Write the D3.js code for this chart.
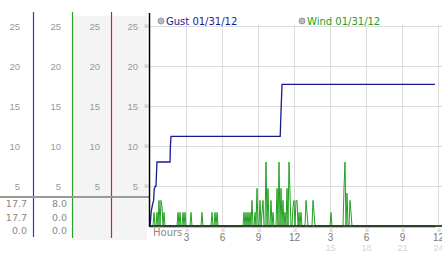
<!DOCTYPE html>
<html>
<head>
<meta charset="utf-8">
<script src="https://cdn.jsdelivr.net/npm/d3@7"></script>
<style>
  body { margin: 0; background: #fff; }
  svg { display: block; font-family: "DejaVu Sans", sans-serif; }
  .domain { display: none; }
</style>
</head>
<body>
<div id="chart"></div>
<script>
// chart data
var yTicks = [5, 10, 15, 20, 25];
var xTicks = [3, 6, 9, 12, 15, 18, 21, 24];
var xTickLabels = ["3", "6", "9", "12", "3", "6", "9", "12"];
var xDayLabels = ["", "", "", "", "15", "18", "21", "24"];
var seriesNames = ["Gust 01/31/12", "Wind 01/31/12"];
var gustStats = ["17.7", "17.7", "0.0"];
var windStats = ["8.0", "0.0", "0.0"];

// gust readings [hour, mph]
var gust = [
  [0, 0], [0.05, 0.8], [0.1, 1.8], [0.2, 2.6], [0.3, 3.2], [0.35, 4.6], [0.45, 5.0],
  [0.5, 5.0], [0.58, 8.0], [1.67, 8.0], [1.7, 10.0], [1.75, 11.2], [10.85, 11.2],
  [10.9, 13.5], [11.0, 17.7], [23.75, 17.7]
];

// wind readings [minute, mph]
var wind = [
  [0, 0], [15, 0], [20, 1.7], [25, 0], [30, 0], [35, 1.7], [40, 0], [45, 3.2], [50, 0],
  [55, 3.2], [60, 2.4], [65, 0], [70, 1.7], [75, 0],
  [135, 0], [140, 1.7], [145, 0], [150, 1.7], [155, 0], [160, 0], [165, 1.7], [170, 0],
  [175, 1.7], [180, 0], [200, 0], [205, 1.7], [210, 0], [255, 0], [260, 1.7], [265, 0],
  [305, 0], [310, 1.7], [315, 0], [320, 0], [325, 1.7], [330, 0], [335, 1.7], [340, 0],
  [465, 0], [470, 1.7], [475, 0], [480, 1.7], [485, 0], [490, 1.7], [495, 0], [500, 1.7],
  [505, 0], [510, 3.2], [515, 0], [520, 0], [525, 1.7], [530, 0], [535, 4.7], [540, 0],
  [545, 0], [550, 3.2], [555, 0], [560, 1.7], [565, 3.2], [570, 0], [575, 0], [580, 8.0],
  [585, 0], [590, 4.7], [595, 0], [600, 0], [605, 3.2], [610, 0], [615, 1.7], [620, 0],
  [630, 0], [635, 4.7], [640, 0], [645, 8.0], [650, 0], [655, 4.7], [660, 0], [665, 3.2],
  [670, 0], [675, 1.7], [680, 0], [685, 4.7], [690, 0], [695, 8.0], [700, 4.1], [705, 0],
  [710, 0], [715, 2.4], [720, 3.2], [725, 0], [730, 3.2], [735, 3.2], [740, 0], [745, 1.7],
  [750, 0], [755, 1.7], [760, 0], [775, 0], [780, 3.2], [785, 1.7], [790, 0], [810, 0],
  [815, 3.2], [820, 1.7], [825, 0], [900, 0], [905, 1.7], [910, 0], [965, 0], [970, 4.7],
  [975, 8.0], [980, 0], [985, 4.1], [990, 0], [995, 0], [1000, 3.2], [1005, 1.7], [1010, 0],
  [1425, 0]
];

var svgWidth = 442;
var svgHeight = 253;

var svg = d3.select("#chart")
  .append("svg")
  .attr("width", svgWidth)
  .attr("height", svgHeight);

// scales: 0..24 hours across the plot, 0..25 mph up
var x = d3.scaleLinear().domain([0, 24]).range([150, 438]);
var y = d3.scaleLinear().domain([0, 25]).range([226, 26]);

// gray column backgrounds
svg.append("rect").attr("x", 73).attr("y", 16).attr("width", 38).attr("height", 224).attr("fill", "#f4f4f4");
svg.append("rect").attr("x", 112).attr("y", 16).attr("width", 35).attr("height", 224).attr("fill", "#f4f4f4");

// grid
svg.append("g").selectAll("line")
  .data(yTicks)
  .enter().append("line")
  .attr("x1", 150).attr("x2", svgWidth)
  .attr("y1", d => Math.round(y(d)) + 0.5).attr("y2", d => Math.round(y(d)) + 0.5)
  .attr("stroke", "#dcdcdc");
svg.append("g").selectAll("line")
  .data(xTicks)
  .enter().append("line")
  .attr("x1", d => Math.round(x(d)) + 0.5).attr("x2", d => Math.round(x(d)) + 0.5)
  .attr("y1", 25).attr("y2", 226)
  .attr("stroke", "#dcdcdc");

// column label axes (left panel)
var colRights = [20, 61, 100, 138];
colRights.forEach(cx => {
  var ax = svg.append("g")
    .attr("transform", `translate(${cx}, 0)`)
    .call(d3.axisLeft(y).tickValues(yTicks).tickSize(0).tickPadding(0));
  ax.selectAll("text").attr("fill", "#999").style("font-size", "9.5px");
});

// tick markers left of the plot
var yMarks = svg.append("g")
  .attr("transform", "translate(149, 0)")
  .call(d3.axisLeft(y).tickValues(yTicks).tickSize(0).tickPadding(0).tickFormat(() => "※"));
yMarks.selectAll("text").attr("fill", "#aaa").style("font-size", "6px");

// colored column dividers
svg.append("line").attr("x1", 33.5).attr("x2", 33.5).attr("y1", 12).attr("y2", 237).attr("stroke", "#1f3fc0").attr("stroke-width", 1.2);
svg.append("line").attr("x1", 72.5).attr("x2", 72.5).attr("y1", 12).attr("y2", 238).attr("stroke", "#2aa02a").attr("stroke-width", 1.2);
svg.append("line").attr("x1", 111.5).attr("x2", 111.5).attr("y1", 12).attr("y2", 238).attr("stroke", "#c82828").attr("stroke-width", 1.2);

// divider above the stats
svg.append("line").attr("x1", 0).attr("x2", 149).attr("y1", 197).attr("y2", 197)
  .attr("stroke", "#9a9a9a").attr("stroke-width", 2);

// stats under the divider
var statRows = [204, 218, 231];
svg.append("g").selectAll("text")
  .data(gustStats)
  .enter().append("text")
  .attr("x", 27).attr("y", (d, i) => statRows[i])
  .attr("dy", "0.35em")
  .attr("text-anchor", "end")
  .attr("fill", "#888")
  .style("font-size", "9.5px")
  .text(d => d);
svg.append("g").selectAll("text")
  .data(windStats)
  .enter().append("text")
  .attr("x", 67).attr("y", (d, i) => statRows[i])
  .attr("dy", "0.35em")
  .attr("text-anchor", "end")
  .attr("fill", "#888")
  .style("font-size", "9.5px")
  .text(d => d);

// wind line
var windLine = d3.line()
  .x(d => x(d[0] / 60))
  .y(d => y(d[1]));
svg.append("path")
  .datum(wind)
  .attr("d", windLine)
  .attr("fill", "none")
  .attr("stroke", "#22a022")
  .attr("stroke-width", 1);

// gust line
var gustLine = d3.line()
  .x(d => x(d[0]))
  .y(d => y(d[1]));
svg.append("path")
  .datum(gust)
  .attr("d", gustLine)
  .attr("fill", "none")
  .attr("stroke", "#1a1a90")
  .attr("stroke-width", 1.3);

// axis lines
svg.append("line").attr("x1", 149.5).attr("x2", 149.5).attr("y1", 13).attr("y2", 227).attr("stroke", "#000").attr("stroke-width", 1.5);
svg.append("line").attr("x1", 149).attr("x2", svgWidth).attr("y1", 226).attr("y2", 226).attr("stroke", "#111").attr("stroke-width", 1.5);
svg.append("line").attr("x1", 150).attr("x2", 436).attr("y1", 227.5).attr("y2", 227.5).attr("stroke", "#9ad89a").attr("stroke-width", 1);

// x tick markers and labels
var xMarks = svg.append("g")
  .attr("transform", "translate(0, 228)")
  .call(d3.axisBottom(x).tickValues(xTicks).tickSize(0).tickPadding(0).tickFormat(() => "※"));
xMarks.selectAll("text").attr("fill", "#aaa").style("font-size", "5px");

var xLab = svg.append("g")
  .attr("transform", "translate(0, 234)")
  .call(d3.axisBottom(x).tickValues(xTicks).tickSize(0).tickPadding(0).tickFormat((d, i) => xTickLabels[i]));
xLab.selectAll("text").attr("fill", "#777").style("font-size", "10px");

var xDay = svg.append("g")
  .attr("transform", "translate(0, 245)")
  .call(d3.axisBottom(x).tickValues(xTicks).tickSize(0).tickPadding(0).tickFormat((d, i) => xDayLabels[i]));
xDay.selectAll("text").attr("fill", "#d4d4d4").style("font-size", "9px");

svg.append("text")
  .attr("x", 153).attr("y", 232).attr("dy", "0.35em")
  .attr("fill", "#888").style("font-size", "10px")
  .text("Hours");

// legend
var legendX = [161, 302];
var legendColors = ["#1a1a90", "#22a022"];
seriesNames.forEach((name, i) => {
  svg.append("circle").attr("cx", legendX[i]).attr("cy", 21).attr("r", 3)
    .attr("fill", "#bbb").attr("stroke", "#888").attr("stroke-width", 0.8);
  svg.append("text").attr("x", legendX[i] + 5).attr("y", 21).attr("dy", "0.35em")
    .attr("fill", legendColors[i]).style("font-size", "10px")
    .text(name);
});
</script>
</body>
</html>
